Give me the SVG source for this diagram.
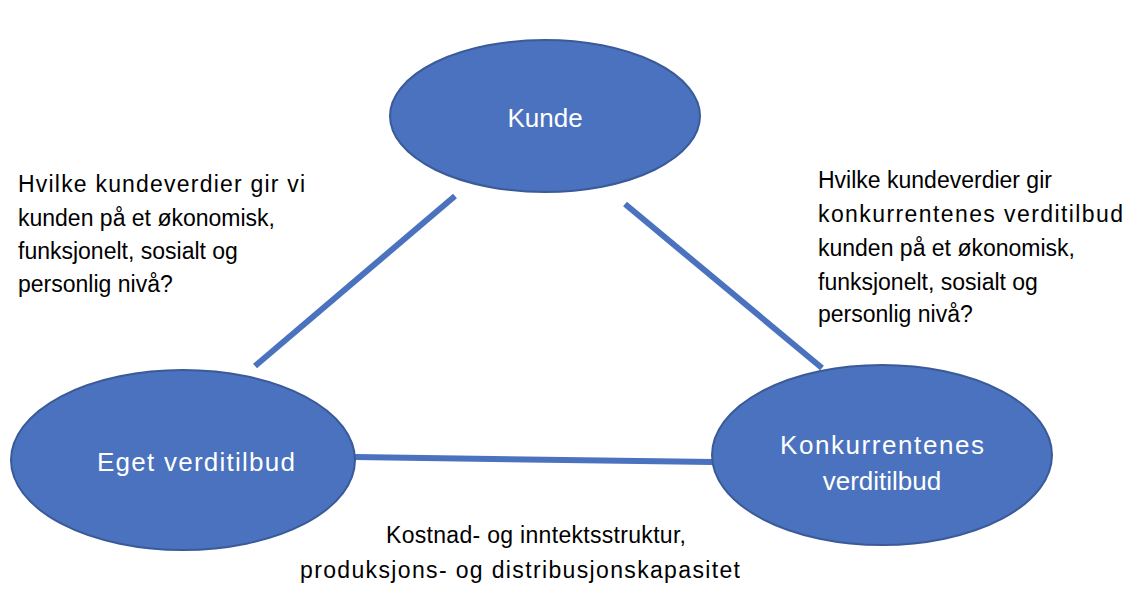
<svg xmlns="http://www.w3.org/2000/svg" width="1140" height="606" viewBox="0 0 1140 606">
<style>
.n{fill:#4a72be;stroke:#3a5a98;stroke-width:2}
.nt{font-family:"Liberation Sans",Arial,sans-serif;font-size:26px;fill:#fff;text-anchor:middle}
.t{font-family:"Liberation Sans",Arial,sans-serif;font-size:23px;fill:#000}
.c{stroke:#4a72be;stroke-width:6;fill:none}
</style>
<rect width="1140" height="606" fill="#fff"/>
<g id="connectors">
<line class="c" x1="455" y1="196" x2="255" y2="366"/>
<line class="c" x1="625" y1="204" x2="822" y2="368"/>
<line class="c" x1="355" y1="457" x2="713" y2="462"/>
</g>
<g id="kunde"><ellipse class="n" cx="545" cy="116" rx="155" ry="76"/><text class="nt" x="545" y="127">Kunde</text></g>
<g id="eget"><ellipse class="n" cx="183" cy="460" rx="172" ry="90"/><text class="nt" x="196" y="471" textLength="198">Eget verditilbud</text></g>
<g id="konk"><ellipse class="n" cx="882" cy="455" rx="170" ry="90"/><text class="nt" x="882" y="454" textLength="204">Konkurrentenes</text><text class="nt" x="882" y="490">verditilbud</text></g>
<g id="labels">
<text class="t" x="18" y="192" textLength="287">Hvilke kundeverdier gir vi</text>
<text class="t" x="18" y="226">kunden på et økonomisk,</text>
<text class="t" x="18" y="259">funksjonelt, sosialt og</text>
<text class="t" x="18" y="292">personlig nivå?</text>
<text class="t" x="818" y="188">Hvilke kundeverdier gir</text>
<text class="t" x="818" y="222" textLength="305">konkurrentenes verditilbud</text>
<text class="t" x="818" y="256">kunden på et økonomisk,</text>
<text class="t" x="818" y="290">funksjonelt, sosialt og</text>
<text class="t" x="818" y="322">personlig nivå?</text>
<text class="t" x="386" y="543" textLength="300">Kostnad- og inntektsstruktur,</text>
<text class="t" x="300" y="578" textLength="440">produksjons- og distribusjonskapasitet</text>
</g>
</svg>
